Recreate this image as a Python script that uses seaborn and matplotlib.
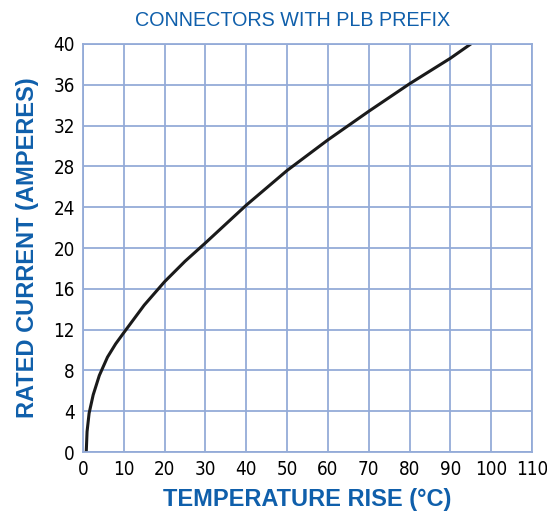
import numpy as np
import pandas as pd
import matplotlib
matplotlib.use('Agg')
import matplotlib.pyplot as plt
import seaborn as sns

# values
temp_rise = [0.8, 1.0, 1.5, 2.5, 4.0, 6.0, 8.0, 10.0, 15.0, 20.0, 25.0, 30.0,
             40.0, 50.0, 60.0, 70.0, 80.0, 90.0, 95.0]
rated_current = [0.0, 2.0, 3.8, 5.6, 7.5, 9.3, 10.6, 11.7, 14.4, 16.7, 18.7, 20.5,
                 24.2, 27.6, 30.6, 33.4, 36.1, 38.6, 40.0]
x_ticks = list(range(0, 111, 10))
y_ticks = list(range(0, 41, 4))

df = pd.DataFrame({'temp': temp_rise, 'current': rated_current})

blue = '#0f5fab'
grid_blue = '#94abd8'

sns.set_style('white')
plt.rcParams['font.family'] = ['Liberation Sans', 'DejaVu Sans']

fig = plt.figure(figsize=(5.47, 5.14), dpi=100)
ax = fig.add_axes([0.1517, 0.1206, 0.8209, 0.7938])

sns.lineplot(data=df, x='temp', y='current', ax=ax, color='#1a1a1a',
             linewidth=2.2, estimator=None, sort=True)

ax.set_xlim(0, 110)
ax.set_ylim(0, 40)
ax.set_xticks(x_ticks)
ax.set_yticks(y_ticks)
ax.grid(True, color=grid_blue, linewidth=1.3)
ax.set_axisbelow(True)
for s in ax.spines.values():
    s.set_color(grid_blue)
    s.set_linewidth(1.3)

# condensed digits like the original print
tick_font = {'family': 'DejaVu Sans', 'stretch': 'condensed', 'size': 13.5,
             'color': 'black'}
ax.set_xticklabels([str(t) for t in x_ticks], fontdict=tick_font)
ax.set_yticklabels([str(t) for t in y_ticks], fontdict=tick_font)
ax.tick_params(length=0, pad=6)

ax.set_xlabel('TEMPERATURE RISE (°C)', color=blue, fontsize=17,
              fontweight='bold', labelpad=6)
ax.set_ylabel('RATED CURRENT (AMPERES)', color=blue, fontsize=17,
              fontweight='bold', labelpad=10)
fig.text(293 / 547, 1 - 20 / 514, 'CONNECTORS WITH PLB PREFIX', color=blue,
         fontsize=14.2, ha='center', va='center')

fig.savefig('out.png', dpi=100)
